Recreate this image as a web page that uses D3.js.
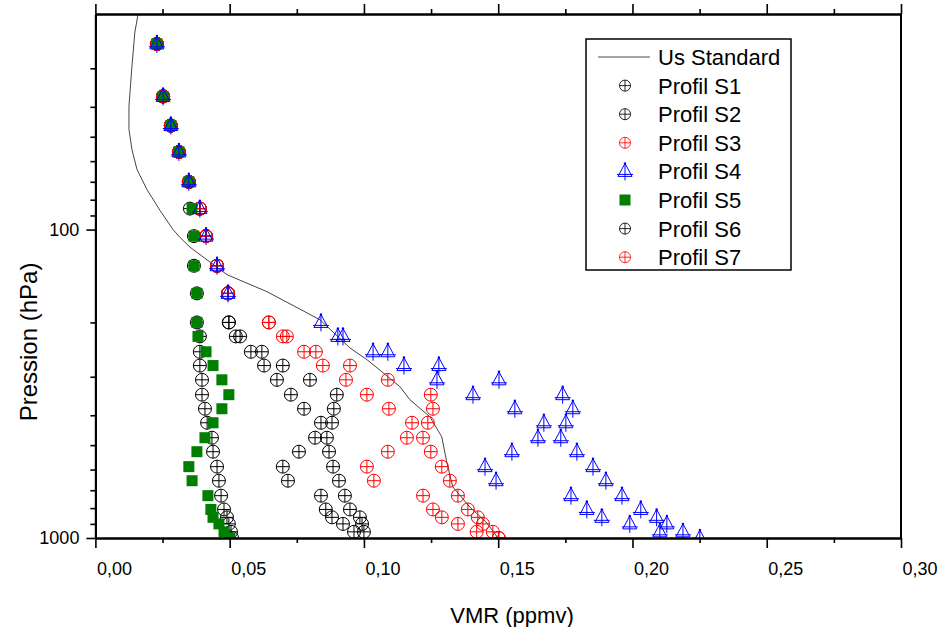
<!DOCTYPE html>
<html>
<head>
<meta charset="utf-8">
<script src="https://cdn.jsdelivr.net/npm/d3@7"></script>
<style>
  body { margin: 0; background: #fff; }
  svg { font-family: "Liberation Sans", Arial, sans-serif; }
</style>
</head>
<body>
<svg width="940" height="627"></svg>
<script>
// pressure levels (hPa) shared by the profiles
const levels = [25, 37, 46, 56, 70, 85.5, 105, 131, 161, 200, 222, 249, 276, 307, 343, 381, 423, 473, 525, 587, 652, 729, 808, 857, 900, 955, 1000];

// VMR (ppmv) per profile, one value per level (null = no point)
const s1 = [0.0229, 0.0252, 0.0281, 0.0311, 0.0348, 0.0389, 0.0412, 0.0453, 0.0494, 0.0497, 0.0523, 0.0579, 0.0628, 0.0676, 0.0728, 0.0777, 0.0840, 0.0818, 0.0758, 0.0698, 0.0717, 0.0840, 0.0858, 0.0881, 0.0922, 0.0963, null];
const s2 = [0.0229, 0.0252, 0.0281, 0.0311, 0.0348, 0.0389, 0.0412, 0.0453, 0.0494, 0.0497, 0.0539, 0.0620, 0.0698, 0.0799, 0.0899, 0.0888, 0.0881, 0.0862, 0.0870, 0.0885, 0.0907, 0.0929, 0.0948, 0.0985, 0.0993, 0.1000, null];
const s3 = [0.0229, 0.0252, 0.0281, 0.0311, 0.0348, 0.0389, 0.0412, 0.0453, 0.0494, 0.0646, 0.0698, 0.0777, 0.0847, 0.0933, 0.1011, 0.1093, 0.1179, 0.1160, 0.1089, 0.1011, 0.1037, 0.1220, 0.1257, 0.1290, 0.1350, 0.1420, 0.1502];
const s4a = [0.0229, 0.0252, 0.0281, 0.0311, 0.0348, 0.0389, 0.0412, 0.0453, 0.0494, 0.0840, 0.0903, 0.1034, 0.1149, 0.1272, 0.1406, 0.1562, 0.1670, 0.1648, 0.1551, 0.1451, 0.1492, 0.1771, 0.1830, 0.1886, 0.1990, 0.2102, 0.2251];
const s4b = [null, null, null, null, null, null, null, null, null, null, 0.0922, 0.1089, 0.1279, 0.1503, 0.1740, 0.1778, 0.1752, 0.1733, 0.1793, 0.1853, 0.1901, 0.1961, 0.2031, 0.2090, 0.2128, 0.2188, null];
const s5 = [0.0229, 0.0252, 0.0281, 0.0311, 0.0348, 0.0360, 0.0367, 0.0367, 0.0378, 0.0378, 0.0382, 0.0412, 0.0438, 0.0471, 0.0497, 0.0471, 0.0438, 0.0408, 0.0378, 0.0348, 0.0360, 0.0419, 0.0430, 0.0438, 0.0460, 0.0479, 0.0501];
const s6 = [0.0229, 0.0252, 0.0281, 0.0311, 0.0348, 0.0352, 0.0367, 0.0367, 0.0378, 0.0378, 0.0389, 0.0389, 0.0389, 0.0397, 0.0397, 0.0408, 0.0416, 0.0434, 0.0438, 0.0453, 0.0460, 0.0468, 0.0479, 0.0490, 0.0497, 0.0505, 0.0509];
const s7 = [0.0229, 0.0252, 0.0281, 0.0311, 0.0348, 0.0389, 0.0412, 0.0453, 0.0494, 0.0646, 0.0713, 0.0821, 0.0948, 0.1089, 0.1249, 0.1257, 0.1238, 0.1220, 0.1249, 0.1290, 0.1320, 0.1350, 0.1387, 0.1424, 0.1443, 0.1480, 0.1502];

// US standard profile
const stdP = [20, 22.9, 29.6, 39.9, 47.3, 55, 63.9, 74.2, 86.8, 100, 106, 114, 140, 159, 196, 242, 264, 291, 323, 356, 405, 470, 571, 683, 793, 894, 1000];
const stdV = [0.0159, 0.0147, 0.0136, 0.0125, 0.0125, 0.0136, 0.0155, 0.0192, 0.0241, 0.0289, 0.0315, 0.0352, 0.0490, 0.0639, 0.0836, 0.0948, 0.1011, 0.1071, 0.1134, 0.1171, 0.1246, 0.1290, 0.1309, 0.1331, 0.1394, 0.1458, 0.1499];

const xTicks = [0, 0.05, 0.10, 0.15, 0.20, 0.25, 0.30];
const xMinor = [0.025, 0.075, 0.125, 0.175, 0.225, 0.275];
const yTicks = [100, 1000];
const yMinor = [30, 40, 50, 60, 70, 80, 90, 200, 300, 400, 500, 600, 700, 800, 900];

const legendNames = ["Us Standard", "Profil S1", "Profil S2", "Profil S3", "Profil S4", "Profil S5", "Profil S6", "Profil S7"];

const plotLeft = 95.4, plotRight = 901, plotTop = 14, plotBottom = 538;

const svg = d3.select("svg");
const x = d3.scaleLinear().domain([0, 0.30]).range([plotLeft, plotRight]);
const y = d3.scaleLog().domain([1000, 20]).range([plotBottom, plotTop]);

svg.append("defs").append("clipPath").attr("id", "plot")
  .append("rect")
  .attr("x", plotLeft).attr("y", plotTop)
  .attr("width", plotRight - plotLeft).attr("height", plotBottom - plotTop);

const comma = d => d3.format(".2f")(d).replace(".", ",");

// marker drawers, each draws into a g positioned at the point
function circlePlus(g, color) {
  g.append("circle").attr("r", 6.5).attr("fill", "none").attr("stroke", color).attr("stroke-width", 1);
  g.append("path").attr("d", "M-6.5,0H6.5M0,-6.5V6.5").attr("stroke", color).attr("stroke-width", 1);
}
function trianglePlus(g, color) {
  g.append("path").attr("d", "M0,-8L-7,5H7Z").attr("fill", "none").attr("stroke", color).attr("stroke-width", 1);
  g.append("path").attr("d", "M-8,3H8M0,-8V9").attr("stroke", color).attr("stroke-width", 1);
  g.append("circle").attr("cy", -8).attr("r", 1.2).attr("fill", color);
}
function square(g, color) {
  g.append("rect").attr("x", -5.5).attr("y", -5.5).attr("width", 11).attr("height", 11).attr("fill", color);
}

// draw order: black, red, green, blue on top
const series = [
  { vals: s1, draw: circlePlus, color: "#000" },
  { vals: s2, draw: circlePlus, color: "#000" },
  { vals: s6, draw: circlePlus, color: "#000" },
  { vals: s3, draw: circlePlus, color: "#f00" },
  { vals: s7, draw: circlePlus, color: "#f00" },
  { vals: s5, draw: square, color: "#007f00" },
  { vals: s4a, draw: trianglePlus, color: "#00f" },
  { vals: s4b, draw: trianglePlus, color: "#00f" }
];

const plotG = svg.append("g").attr("clip-path", "url(#plot)");

plotG.append("path")
  .datum(stdP.map((p, i) => [stdV[i], p]))
  .attr("fill", "none")
  .attr("stroke", "#444")
  .attr("stroke-width", 1)
  .attr("d", d3.line().x(d => x(d[0])).y(d => y(d[1])));

series.forEach(s => {
  const pts = levels.map((p, i) => [s.vals[i], p]).filter(d => d[0] != null);
  plotG.append("g").selectAll("g")
    .data(pts)
    .join("g")
    .attr("transform", d => `translate(${x(d[0])},${y(d[1])})`)
    .each(function() { s.draw(d3.select(this), s.color); });
});

// axes
function styleAxis(g) {
  g.select(".domain").attr("stroke-width", 2);
  g.selectAll(".tick line").attr("stroke-width", 1.6);
}

svg.append("g").attr("transform", `translate(0,${plotBottom})`)
  .call(d3.axisBottom(x).tickValues(xMinor).tickSize(5).tickSizeOuter(0).tickFormat(""))
  .call(styleAxis);
const xAxis = svg.append("g").attr("transform", `translate(0,${plotBottom})`)
  .call(d3.axisBottom(x).tickValues(xTicks).tickSize(10).tickSizeOuter(0).tickPadding(14).tickFormat(comma))
  .call(styleAxis);
xAxis.selectAll("text")
  .attr("text-anchor", "start")
  .attr("x", 1)
  .attr("font-size", 18)
  .attr("font-family", "Liberation Sans, Arial, sans-serif");

svg.append("g").attr("transform", `translate(0,${plotTop})`)
  .call(d3.axisTop(x).tickValues(xMinor).tickSize(5).tickSizeOuter(0).tickFormat(""))
  .call(styleAxis);
svg.append("g").attr("transform", `translate(0,${plotTop})`)
  .call(d3.axisTop(x).tickValues(xTicks).tickSize(10).tickSizeOuter(0).tickFormat(""))
  .call(styleAxis);

svg.append("g").attr("transform", `translate(${plotLeft},0)`)
  .call(d3.axisLeft(y).tickValues(yMinor).tickSize(5).tickSizeOuter(0).tickFormat(""))
  .call(styleAxis);
const yAxis = svg.append("g").attr("transform", `translate(${plotLeft},0)`)
  .call(d3.axisLeft(y).tickValues(yTicks).tickSize(9).tickSizeOuter(0).tickPadding(7).tickFormat(d3.format("d")))
  .call(styleAxis);
yAxis.selectAll("text")
  .attr("font-size", 18)
  .attr("font-family", "Liberation Sans, Arial, sans-serif");

svg.append("line")
  .attr("x1", plotRight).attr("x2", plotRight).attr("y1", plotTop).attr("y2", plotBottom)
  .attr("stroke", "#000").attr("stroke-width", 2);

// axis titles
svg.append("text")
  .attr("x", 512).attr("y", 623)
  .attr("text-anchor", "middle")
  .attr("font-size", 22)
  .text("VMR (ppmv)");

svg.append("text")
  .attr("transform", "translate(37,342) rotate(-90)")
  .attr("text-anchor", "middle")
  .attr("font-size", 24)
  .text("Pression (hPa)");

// legend
const legend = svg.append("g");
legend.append("rect")
  .attr("x", 586).attr("y", 39).attr("width", 205).attr("height", 231)
  .attr("fill", "#fff").attr("stroke", "#000").attr("stroke-width", 1.5);

const legendMarks = [null, series[0], series[1], series[3], series[6], series[5], series[2], series[4]];
legendNames.forEach((name, i) => {
  const cy = 57 + i * 28.6;
  const row = legend.append("g");
  if (i === 0) {
    row.append("line").attr("x1", 598).attr("x2", 650).attr("y1", cy).attr("y2", cy)
      .attr("stroke", "#888").attr("stroke-width", 1.5);
  } else {
    const m = legendMarks[i];
    const g = row.append("g").attr("transform", `translate(625,${cy})`);
    m.draw(g, m.color);
    if (m.draw === circlePlus) g.attr("transform", `translate(625,${cy}) scale(0.85)`);
  }
  row.append("text")
    .attr("x", 658).attr("y", cy + 8)
    .attr("font-size", 22)
    .text(name);
});
</script>
</body>
</html>
